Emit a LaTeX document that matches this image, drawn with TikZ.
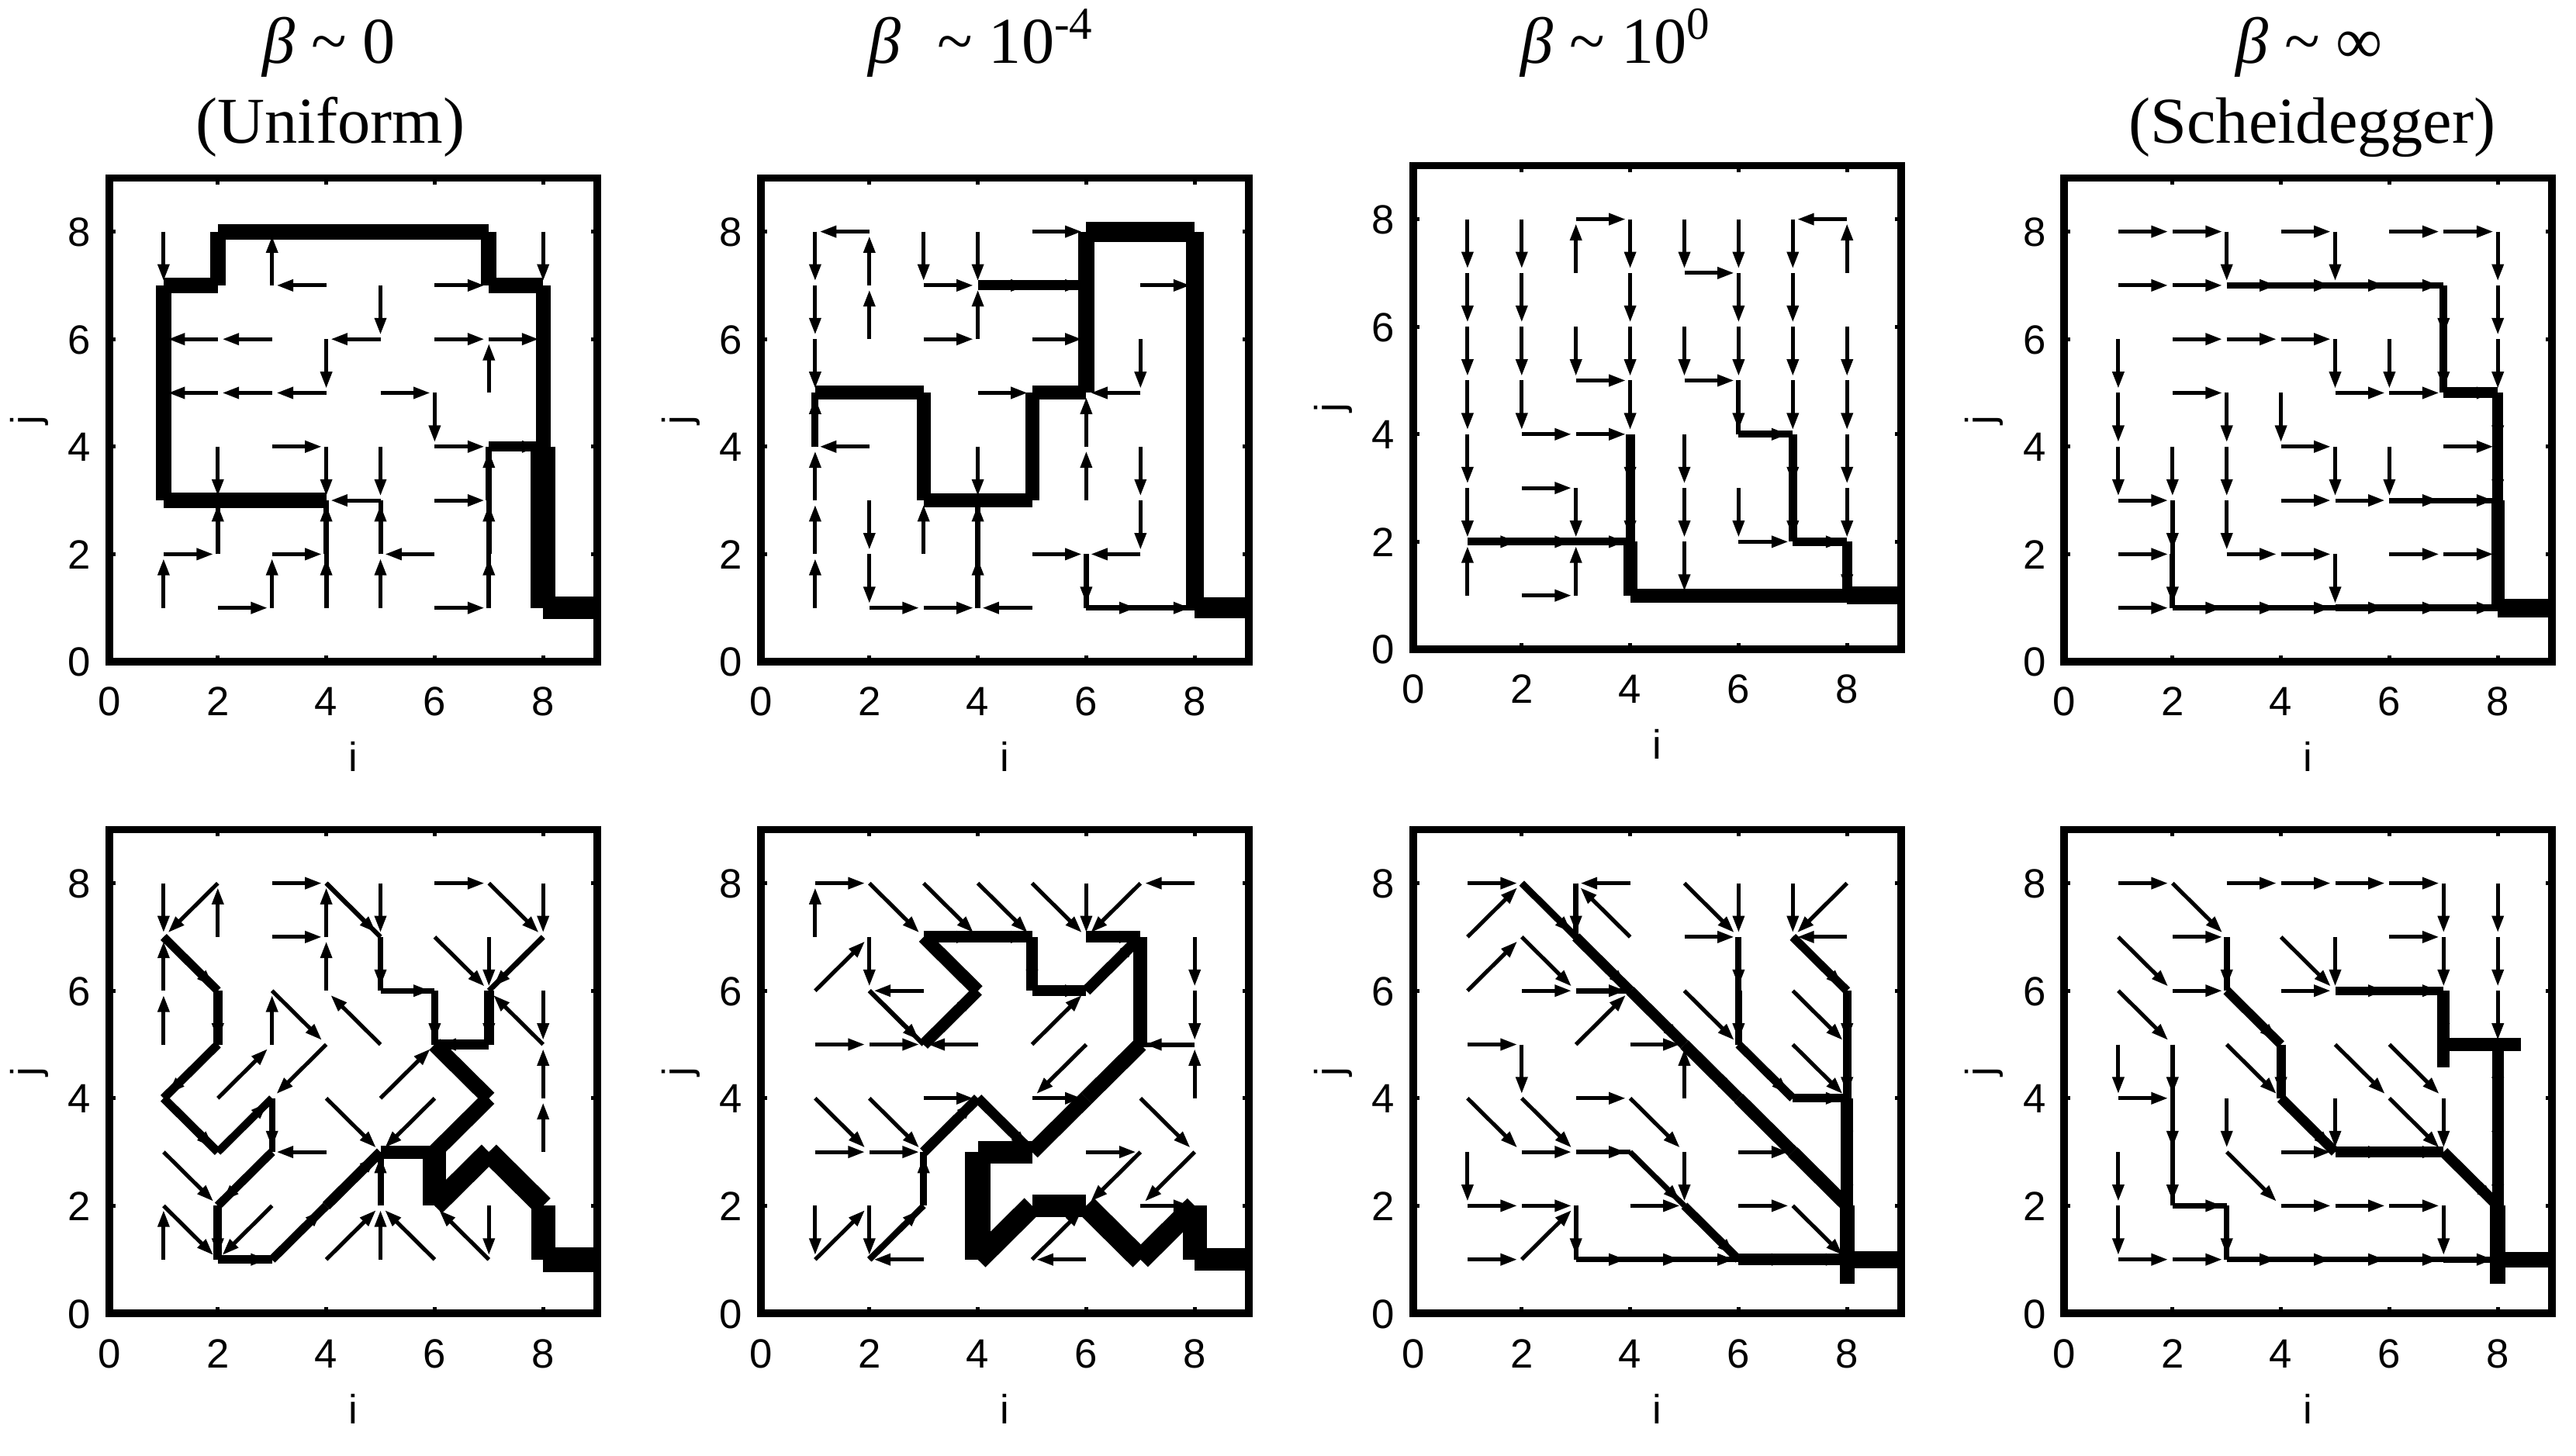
\documentclass[tikz,border=0pt]{standalone}
\usepackage{fontspec}
\setmainfont{Liberation Serif}
\newfontfamily\sfont{Liberation Sans}
\usetikzlibrary{arrows.meta}
\def\dirE{\def\fdx{1}\def\fdy{0}}
\def\dirW{\def\fdx{-1}\def\fdy{0}}
\def\dirN{\def\fdx{0}\def\fdy{1}}
\def\dirS{\def\fdx{0}\def\fdy{-1}}
\def\dirNE{\def\fdx{1}\def\fdy{1}}
\def\dirNW{\def\fdx{-1}\def\fdy{1}}
\def\dirSE{\def\fdx{1}\def\fdy{-1}}
\def\dirSW{\def\fdx{-1}\def\fdy{-1}}
\tikzset{
  flowarr/.style={line width=1.45pt, line cap=butt, -{Triangle[length=6.2pt,width=4.1pt]}},
  pframe/.style={line width=2.7pt},
  ptick/.style={line width=1.4pt},
  ticklab/.style={font=\sfont\fontsize{15}{18}\selectfont, inner sep=0pt},
  ttl/.style={font=\fontsize{24}{28}\selectfont, inner sep=0pt, anchor=base},
}
% #1 xshift (cm), #2 yshift (cm), #3 rows j=8..1, #4 thick segments, #5 extra
\newcommand\flowpanel[5]{%
\begin{scope}[xshift=#1cm,yshift=#2cm,x=0.699cm,y=0.693cm]
  \foreach \rowlist [count=\rr] in {#3} {
    \pgfmathtruncatemacro\jj{9-\rr}
    \foreach \D [count=\ci] in \rowlist {
      \csname dir\D\endcsname
      \draw[flowarr] (\ci,\jj) -- ++(0.92*\fdx,0.92*\fdy);
    }
  }
  \foreach \i/\j/\D/\w in {#4} {
    \csname dir\D\endcsname
    \draw[line width=\w*0.2845pt, line cap=butt] (\i,\j) -- ++(\fdx,\fdy);
  }
  #5
  \draw[pframe] (0,0) rectangle (9,9);
  \foreach \t in {2,4,6,8} {
    \draw[ptick] (\t,0) -- (\t,0.12);
    \draw[ptick] (\t,9) -- (\t,8.88);
    \draw[ptick] (0,\t) -- (0.12,\t);
    \draw[ptick] (9,\t) -- (8.88,\t);
  }
  \foreach \t in {0,2,4,6,8} {
    \node[ticklab, anchor=base, yshift=-0.70cm] at (\t,0) {\t};
    \node[ticklab, anchor=base east, xshift=-0.23cm, yshift=-0.19cm] at (0,\t) {\t};
  }
  \node[ticklab, anchor=base, yshift=-1.42cm] at (4.5,0) {i};
  \node[ticklab, rotate=90] at (-1.47,4.5) {j};
\end{scope}}

\begin{document}
\begin{tikzpicture}
\useasboundingbox (0,0) rectangle (33.21,-18.77);
\fill[white] (0,0) rectangle (33.21,-18.77);

% titles
\node[ttl] (t1) at (4.24,-0.82) {\textit{β} \char"7E\relax\ 0};
\node[ttl] (t1b) at (4.26,-1.85) {(Uniform)};
\node[ttl] (t2) at (12.65,-0.82) {\textit{β}\hspace{0.55em}\char"7E\relax\ 10\textsuperscript{-4}};
\node[ttl] (t3) at (20.83,-0.82) {\textit{β} \char"7E\relax\ 10\textsuperscript{0}};
\node[ttl] (t4) at (29.77,-0.82) {\textit{β} \char"7E\relax\ ∞};
\node[ttl] (t4b) at (29.81,-1.85) {(Scheidegger)};

% Panel 1 (beta ~ 0, top)
\flowpanel{1.41}{-8.53}{
 {S,E,E,E,E,E,S,S},
 {E,N,N,W,S,E,E,S},
 {N,W,W,S,W,E,E,S},
 {N,W,W,W,E,S,N,S},
 {N,S,E,S,S,E,E,S},
 {N,W,W,W,W,E,N,S},
 {E,N,E,N,N,W,N,S},
 {N,E,N,N,N,E,N,E}}{
 4/3/W/20, 3/3/W/20, 2/3/W/20, 1/3/N/20, 1/4/N/20, 1/5/N/20, 1/6/N/20, 1/7/E/20,
 2/7/N/20, 2/8/E/20, 3/8/E/20, 4/8/E/20, 5/8/E/20, 6/8/E/20, 7/8/S/20, 7/7/E/20,
 8/7/S/19, 8/6/S/19, 8/5/S/19, 8/4/S/32, 8/3/S/32, 8/2/S/32, 8/1/E/29,
 7/4/E/13, 7/3/N/8, 7/2/N/7, 7/1/N/6, 4/2/N/7, 4/1/N/6, 5/2/N/6, 2/2/N/6}{}

% Panel 2 (beta ~ 1e-4, top)
\flowpanel{9.81}{-8.53}{
 {S,W,S,S,E,E,E,S},
 {S,N,E,E,E,N,E,S},
 {S,N,E,N,E,N,S,S},
 {E,E,S,E,E,N,W,S},
 {N,W,S,S,N,N,S,S},
 {N,S,E,E,N,N,S,S},
 {N,S,N,N,E,S,W,S},
 {N,E,E,N,W,E,E,E}}{
 1/5/E/18, 2/5/E/18, 3/5/S/18, 3/4/S/18, 3/3/E/18, 4/3/E/18, 5/3/N/18, 5/4/N/18,
 5/5/E/18, 6/5/N/21, 6/6/N/21, 6/7/N/21, 6/8/E/26, 7/8/E/26, 8/8/S/23, 8/7/S/23,
 8/6/S/23, 8/5/S/23, 8/4/S/23, 8/3/S/23, 8/2/S/23, 8/1/E/27, 4/7/E/13, 5/7/E/13,
 1/4/N/9, 4/2/N/7, 4/1/N/7, 6/2/S/7, 6/1/E/7, 7/1/E/7}{}

% Panel 3 (beta ~ 1, top)
\flowpanel{18.22}{-8.37}{
 {S,S,E,S,S,S,S,W},
 {S,S,N,S,E,S,S,N},
 {S,S,S,S,S,S,S,S},
 {S,S,E,S,E,S,S,S},
 {S,E,E,S,S,E,S,S},
 {S,E,S,S,S,S,S,S},
 {E,E,E,S,S,E,E,S},
 {N,E,N,E,E,E,E,E}}{
 1/2/E/10, 2/2/E/10, 3/2/E/10, 4/4/S/12, 4/3/S/12, 4/2/S/18, 4/1/E/18, 5/1/E/18,
 6/1/E/18, 7/1/E/18, 8/1/E/23, 6/4/E/9, 7/4/S/11, 7/3/S/11, 7/2/E/11, 8/2/S/13, 6/5/S/6}{}

% Panel 4 (beta ~ inf, top)
\flowpanel{26.61}{-8.53}{
 {E,E,S,E,S,E,E,S},
 {E,E,E,E,E,E,S,S},
 {S,E,E,E,S,S,S,S},
 {S,E,S,S,E,E,E,S},
 {S,S,S,E,S,S,E,S},
 {E,S,S,E,E,E,E,S},
 {E,S,E,E,S,E,E,S},
 {E,E,E,E,E,E,E,E}}{
 3/7/E/8, 4/7/E/8, 5/7/E/8, 6/7/E/8, 7/7/S/10, 7/6/S/10, 7/5/E/14, 8/5/S/14,
 8/4/S/14, 8/3/S/17, 8/2/S/17, 8/1/E/24, 6/3/E/7, 7/3/E/7, 2/3/S/6, 2/2/S/7,
 2/1/E/7, 3/1/E/7, 4/1/E/7, 5/1/E/9, 6/1/E/9, 7/1/E/9}{}

% Panel 5 (beta ~ 0, bottom)
\flowpanel{1.41}{-16.93}{
 {S,SW,E,SE,S,E,SE,S},
 {SE,N,E,N,S,SE,S,SW},
 {N,S,SE,N,E,S,S,S},
 {N,SW,N,SW,NW,SE,W,NW},
 {SE,NE,S,SE,NE,SW,SW,N},
 {SE,NE,SW,W,E,S,SE,N},
 {SE,S,SW,NE,N,NE,S,S},
 {N,E,NE,NE,N,NW,NW,E}}{
 1/7/SE/11, 2/6/S/12, 2/5/SW/11, 1/4/SE/11, 2/3/NE/10, 3/4/S/8, 3/3/SW/11, 2/2/S/11,
 2/1/E/11, 3/1/NE/11, 4/2/NE/13, 5/2/N/8, 5/3/E/17, 6/3/S/30, 6/2/NE/27, 7/3/SE/27,
 8/2/S/31, 8/1/E/32, 6/5/SE/20, 7/4/SW/20, 7/5/W/13, 7/6/S/13, 6/6/S/9, 5/6/E/7,
 5/7/S/7, 4/8/SE/6, 8/7/SW/7}{}

% Panel 6 (beta ~ 1e-4, bottom)
\flowpanel{9.81}{-16.93}{
 {E,SE,SE,SE,SE,S,SW,W},
 {N,S,E,E,S,E,S,S},
 {NE,SE,W,NW,E,NE,S,S},
 {E,E,NE,W,NE,SW,SW,W},
 {SE,SE,E,SE,E,SW,SE,N},
 {E,E,NE,S,W,E,SW,SW},
 {S,S,N,S,E,SE,E,S},
 {NE,NE,W,NE,NE,W,NE,E}}{
 3/5/NE/15, 4/6/NW/17, 3/7/E/15, 4/7/E/15, 5/7/S/15, 5/6/E/14, 6/6/NE/14, 6/7/E/15,
 7/7/S/18, 7/6/S/18, 7/5/SW/20, 6/4/SW/20, 4/4/SE/13, 3/3/NE/13, 3/2/N/9, 2/1/NE/8,
 5/3/W/29, 4/3/S/33, 4/2/S/33, 4/1/NE/28, 5/2/E/29, 6/2/SE/28, 7/1/NE/27, 8/2/S/31,
 8/1/E/29, 2/6/SE/6, 8/5/W/6}{}

% Panel 7 (beta ~ 1, bottom)
\flowpanel{18.22}{-16.93}{
 {E,SE,S,W,SE,S,S,SW},
 {NE,SE,SE,NW,E,S,SE,W},
 {NE,E,E,SE,SE,S,SE,S},
 {E,S,NE,E,SE,SE,SE,S},
 {SE,SE,E,SE,N,SE,E,S},
 {S,E,E,SE,S,E,SE,S},
 {E,E,S,E,SE,E,SE,S},
 {E,NE,E,E,E,E,E,E}}{
 2/8/SE/9, 3/8/S/7, 3/7/SE/13, 4/6/SE/14, 5/5/SE/15, 6/4/SE/16, 7/3/SE/17, 8/2/S/19,
 8/1/E/22, 3/6/E/7, 6/7/S/8, 6/6/S/9, 6/5/SE/11, 7/4/E/11, 7/7/SE/11, 8/6/S/11,
 8/5/S/11, 8/4/S/16, 8/3/S/16, 5/2/SE/11, 6/1/E/15, 7/1/E/15, 3/3/E/6, 4/3/SE/7,
 3/2/S/6, 3/1/E/7, 4/1/E/7, 5/1/E/7}{
 \draw[line width=19*0.2845pt] (8,1) -- (8,0.55);}

% Panel 8 (beta ~ inf, bottom)
\flowpanel{26.61}{-16.93}{
 {E,SE,E,E,E,E,S,S},
 {SE,E,S,SE,S,E,S,S},
 {SE,E,SE,E,E,E,S,S},
 {S,S,SE,S,SE,SE,E,S},
 {E,S,S,SE,S,SE,S,S},
 {S,S,SE,E,E,E,SE,S},
 {S,E,S,E,E,E,S,S},
 {E,E,E,E,E,E,E,E}}{
 3/7/S/8, 3/6/SE/12, 4/5/S/12, 4/4/SE/13, 5/3/E/14, 6/3/E/14, 7/3/SE/14, 8/5/S/15,
 8/4/S/15, 8/3/S/15, 8/2/S/20, 8/1/E/20, 5/6/E/11, 6/6/E/11, 2/5/S/6, 2/4/S/6,
 2/3/S/6, 2/2/E/7, 3/2/S/7, 3/1/E/7, 4/1/E/7, 5/1/E/7, 6/1/E/7, 7/1/E/8}{
 \draw[line width=20*0.2845pt] (8,1) -- (8,0.55);
 \draw[line width=16*0.2845pt] (7,6) -- (7,4.58);
 \draw[line width=17*0.2845pt] (7,5) -- (8.42,5);}
\end{tikzpicture}
\end{document}
